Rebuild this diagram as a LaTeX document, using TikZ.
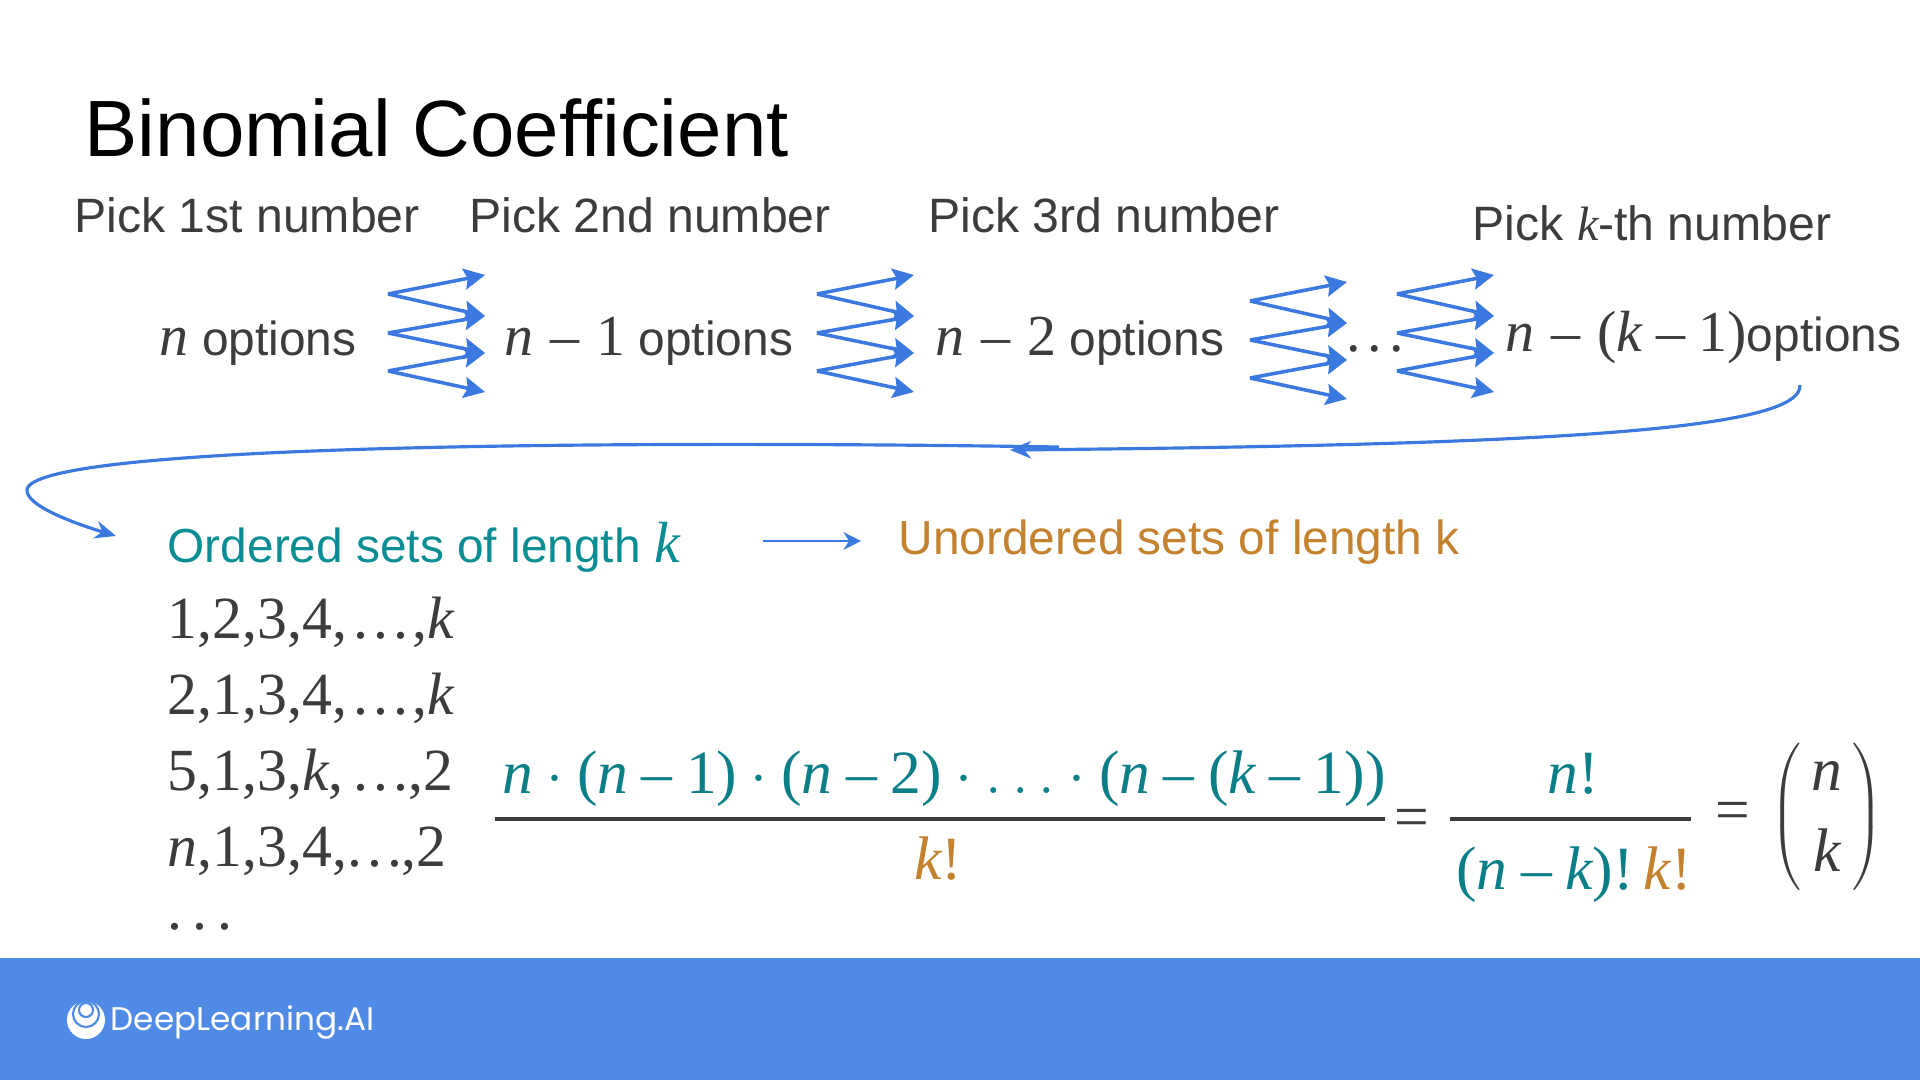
\documentclass[tikz,border=0pt]{standalone}
\usepackage[no-math]{fontspec}
\setmainfont{Liberation Serif}
\usepackage[italic]{mathastext}
\setmainfont{Liberation Sans}
\newfontfamily\logofont{Poppins}
\usetikzlibrary{arrows.meta}
\definecolor{bandblue}{HTML}{4F8BE6}
\definecolor{arrowblue}{HTML}{3B78E0}
\definecolor{tealtxt}{HTML}{0A8E93}
\definecolor{tealmath}{HTML}{0B7F88}
\definecolor{ochre}{HTML}{C4822F}
\definecolor{darktxt}{HTML}{3C3C3C}
\newcommand{\optm}[1]{{\fontsize{16.5}{18}\selectfont\medmuskip=5mu$#1$}}
\newcommand{\lstdots}{.\mkern1.5mu.\mkern1.5mu.}
\begin{document}
\begin{tikzpicture}[
		x=0.01cm, y=-0.01cm,
		titlel/.style={anchor=base west, inner sep=0pt, font=\fontsize{22.7}{26}\selectfont},
		pickl/.style={anchor=base, inner sep=0pt, text=darktxt, font=\fontsize{13.7}{16}\selectfont},
		optl/.style={anchor=base west, inner sep=0pt, text=darktxt, font=\fontsize{13.6}{16}\selectfont},
		setl/.style={anchor=base west, inner sep=0pt, font=\fontsize{13.6}{16}\selectfont},
		listl/.style={anchor=base west, inner sep=0pt, text=darktxt, font=\fontsize{17}{19}\selectfont},
		fracl/.style={anchor=base, inner sep=0pt, font=\fontsize{17.5}{20}\selectfont},
		zag/.style={arrowblue, line width=1pt, -{Stealth[length=6pt, width=6pt, inset=1pt]}},
		longlink/.style={arrowblue, line width=0.9pt},
		fracbar/.style={darktxt, line width=1pt}
	]
	\useasboundingbox (0,0) rectangle (1920,1080);
	\fill[white] (0,0) rectangle (1920,1080);

	% footer band and logo
	\fill[bandblue] (0,958) rectangle (1920,1080);
	\fill[white] (86,1020) circle (19);
	\draw[bandblue, line width=0.6pt] (86,1014) circle (13);
	\draw[bandblue, line width=0.6pt] (86,1010) circle (7);
	\node[anchor=base west, inner sep=0pt, text=white, font=\logofont\fontsize{9.3}{11}\selectfont] (logo) at (110,1031) {DeepLearning.AI};

	% title and headings
	\node[titlel] (title) at (84,157) {Binomial Coefficient};
	\node[pickl] (pick1) at (247,233) {Pick 1st number};
	\node[pickl] (pick2) at (650,233) {Pick 2nd number};
	\node[pickl] (pick3) at (1104,233) {Pick 3rd number};
	\node[pickl] (pickk) at (1652,241) {Pick $k$-th number};

	% options row
	\node[optl] (opt1) at (159,356) {\optm{n} options};
	\node[optl] (opt2) at (504,356) {\optm{n-1} options};
	\node[optl] (opt3) at (935,356) {\optm{n-2} options};
	\node[optl] (optd) at (1346,352) {\optm{.\mkern2mu.\mkern2mu.}};
	\node[optl] (optk) at (1505,352) {\optm{n-(k\mkern-1mu-\mkern-1mu1)}options};

	% zigzag arrows between the options
	\foreach \zz/\dx/\dy in {a/0/0,b/429/0,c/862/7,d/1009/0} {
		\foreach \i/\ty in {1/275,2/316,3/353,4/392}
			\coordinate (\zz t\i) at (485+\dx,\ty+\dy);
		\foreach \i/\vy in {1/294,2/333,3/371}
			\coordinate (\zz v\i) at (388+\dx,\vy+\dy);
		\draw[zag] (\zz v1) -- (\zz t1);
		\draw[zag] (\zz v1) -- (\zz t2);
		\draw[zag] (\zz v2) -- (\zz t2);
		\draw[zag] (\zz v2) -- (\zz t3);
		\draw[zag] (\zz v3) -- (\zz t3);
		\draw[zag] (\zz v3) -- (\zz t4);
	}

	% long curved link
	\coordinate (cstart) at (1800,385);
	\coordinate (cmidl) at (1010,450);
	\coordinate (cmidr) at (1059,447);
	\coordinate (ctip) at (27,490);
	\coordinate (cend) at (116,536);
	\draw[longlink, -{Stealth[length=6pt, width=5pt]}] (cstart) .. controls (1803,430) and (1550,445) .. (cmidl);
	\draw[longlink, -{Stealth[length=6pt, width=5pt]}] (cmidr) .. controls (600,440) and (30,445) .. (ctip)
		.. controls (26,505) and (70,522) .. (cend);

	% ordered and unordered
	\node[setl, text=tealtxt] (ordered) at (167,563) {Ordered sets of length \optm{k}};
	\node[setl, text=ochre] (unordered) at (898,555) {Unordered sets of length k};
	\coordinate (seta) at (763,541);
	\coordinate (setb) at (861,541);
	\draw[arrowblue, line width=0.7pt, -{Stealth[length=5pt, width=5pt]}] (seta) -- (setb);

	% list of orderings
	\node[listl] (row1) at (167,639) {$1{,}2{,}3{,}4{,}\mkern2mu\lstdots\mkern1mu{,}k$};
	\node[listl] (row2) at (167,715) {$2{,}1{,}3{,}4{,}\mkern2mu\lstdots\mkern1mu{,}k$};
	\node[listl] (row3) at (167,791) {$5{,}1{,}3{,}k{,}\,\lstdots{,}2$};
	\node[listl] (row4) at (167,867) {$n{,}1{,}3{,}4{,}\lstdots{,}2$};
	\node[listl] (row5) at (167,930) {$.\mkern3mu.\mkern3mu.$};

	% formula
	\node[fracl, text=tealmath] (num1) at (944,794) {$n\cdot(n-1)\cdot(n-2)\cdot\ldots\cdot(n-(k-1))$};
	\node[fracl, text=ochre] (den1) at (938,880) {$k!$};
	\node[fracl, text=darktxt] (eq1) at (1412,838) {$=$};
	\node[fracl, text=tealmath] (num2) at (1573,794) {$n!$};
	\node[fracl] (den2) at (1574,890) {\textcolor{tealmath}{$(n-k)!$}\,\textcolor{ochre}{$k!$}};
	\node[fracl, text=darktxt] (eq2) at (1733,831) {$=$};
	\node[anchor=center, inner sep=0pt, text=darktxt, font=\fontsize{17.5}{20}\selectfont] (binom) at (1827,817)
		{$\left(\begin{array}{@{\,}c@{\,}} n\\[3pt] k\end{array}\right)$};
	\coordinate (bar1l) at (495,819);
	\coordinate (bar1r) at (1385,819);
	\coordinate (bar2l) at (1450,819);
	\coordinate (bar2r) at (1691,819);
	\draw[fracbar] (bar1l) -- (bar1r);
	\draw[fracbar] (bar2l) -- (bar2r);
\end{tikzpicture}
\end{document}
